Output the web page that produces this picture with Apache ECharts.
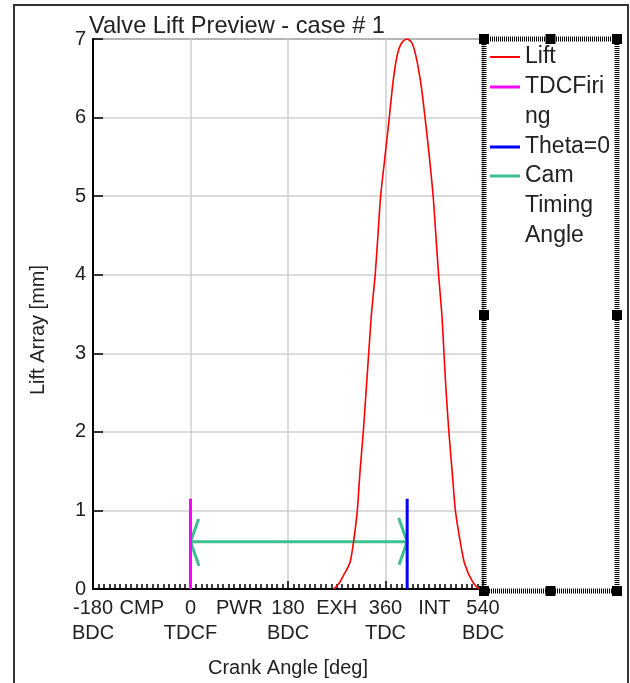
<!DOCTYPE html>
<html>
<head>
<meta charset="utf-8">
<script src="https://cdn.jsdelivr.net/npm/echarts@6.0.0/dist/echarts.min.js"></script>
<style>
  html, body { margin: 0; padding: 0; background: #fff; }
  #main { width: 630px; height: 683px; }
</style>
</head>
<body>
<div id="main"></div>
<script>
// valve lift curve
var liftAngle = [265, 275, 283, 290, 295, 301, 308, 313, 319, 324, 329, 334, 341, 346, 351, 359, 367, 373, 379, 385, 392,
  400, 408, 413, 419, 426, 433, 441, 448, 453, 458, 464, 468, 472, 477, 483, 489, 498, 505, 510, 514, 523, 532];
var liftValue = [0, 0.08, 0.18, 0.27, 0.35, 0.6, 1.0, 1.5, 2.0, 2.5, 3.0, 3.5, 4.0, 4.5, 5.0, 5.5, 6.0, 6.4, 6.7, 6.88, 6.97,
  7.0, 6.96, 6.87, 6.69, 6.4, 6.0, 5.5, 5.0, 4.5, 4.0, 3.5, 3.0, 2.5, 2.0, 1.5, 1.0, 0.6, 0.35, 0.25, 0.18, 0.07, 0];

// marker lines
var tdcLine = [[0, 0], [0, 1.15]];
var thetaLine = [[400, 0], [400, 1.15]];
// double arrow 0 -> 400 at lift 0.6, with open heads
var camArrow = [[15, 0.89], [0, 0.6], [15, 0.31], [0, 0.6], [400, 0.6], [385, 0.89], [400, 0.6], [385, 0.31]];

// x tick labels every 90 deg
var tickTop = ['-180', 'CMP', '0', 'PWR', '180', 'EXH', '360', 'INT', '540'];
var tickBottom = ['BDC', '', 'TDCF', '', 'BDC', '', 'TDC', '', 'BDC'];

// leading blank lines keep the icon level with the first text line
var legendText = { 'TDCFiring': '\nTDCFiri\nng', 'Cam Timing Angle': '\n\nCam\nTiming\nAngle' };

var FONT = 'Arial, "Liberation Sans", sans-serif';
var chart = echarts.init(document.getElementById('main'), null, { renderer: 'canvas' });

var liftData = liftAngle.map(function (a, i) { return [a, liftValue[i]]; });

function mkLegend(name, top, thick) {
  return {
    data: [name],
    left: 490,
    top: top,
    orient: 'vertical',
    padding: 0,
    icon: 'rect',
    itemWidth: 30,
    itemHeight: thick,
    selectedMode: false,
    formatter: function (n) { return legendText[n] || n; },
    textStyle: { fontFamily: FONT, fontSize: 23, lineHeight: 30, color: '#222' }
  };
}

var option = {
  backgroundColor: '#fff',
  animation: false,
  title: {
    text: 'Valve Lift Preview - case # 1',
    left: 89,
    top: 14,
    padding: 0,
    textStyle: { fontFamily: FONT, fontSize: 23.6, fontWeight: 'normal', color: '#222' }
  },
  legend: [
    mkLegend('Lift', 42, 2),
    mkLegend('TDCFiring', 42, 3),
    mkLegend('Theta=0', 132, 3),
    mkLegend('Cam Timing Angle', 101, 3)
  ],
  grid: {
    left: 93, top: 39, right: 147, bottom: 92,
    show: true, borderColor: '#333', borderWidth: 1.5
  },
  xAxis: [{
    type: 'value', min: -180, max: 540, interval: 180,
    axisLine: { show: true, onZero: false, lineStyle: { color: '#000', width: 2 } },
    axisTick: { show: true, inside: true, length: 8, lineStyle: { color: '#000', width: 1.5 } },
    minorTick: { show: true, splitNumber: 18, length: 5, lineStyle: { color: '#000', width: 1.5 } },
    axisLabel: { show: false },
    splitLine: { show: true, lineStyle: { color: '#cfcfcf', width: 1.5 } },
    name: 'Crank Angle [deg]',
    nameLocation: 'middle',
    nameGap: 69,
    nameTextStyle: { fontFamily: FONT, fontSize: 20, color: '#222' }
  }, {
    type: 'value', min: -180, max: 540, interval: 90, position: 'bottom',
    axisLine: { show: false }, axisTick: { show: false }, splitLine: { show: false },
    axisLabel: {
      show: true, margin: 7, showMinLabel: true, showMaxLabel: true,
      fontFamily: FONT, fontSize: 20, lineHeight: 25, color: '#222',
      formatter: function (v) {
        var i = Math.round((v + 180) / 90);
        return tickTop[i] + (tickBottom[i] ? '\n' + tickBottom[i] : '');
      }
    }
  }],
  yAxis: {
    type: 'value', min: 0, max: 7, interval: 1,
    axisLine: { show: true, onZero: false, lineStyle: { color: '#000', width: 2 } },
    axisTick: { show: true, inside: true, length: 10, lineStyle: { color: '#000', width: 1.5 } },
    axisLabel: { fontFamily: FONT, fontSize: 20, color: '#222', margin: 7 },
    splitLine: { show: true, lineStyle: { color: '#cfcfcf', width: 1.5 } },
    name: 'Lift Array [mm]',
    nameLocation: 'middle',
    nameRotate: 90,
    nameGap: 45,
    nameTextStyle: { fontFamily: FONT, fontSize: 20, color: '#222', padding: [0, 32, 0, 0] }
  },
  series: [{
    name: 'Lift', type: 'line', data: liftData, symbol: 'none', smooth: 0.2,
    lineStyle: { color: '#ff0000', width: 1.6 }, itemStyle: { color: '#ff0000' }
  }, {
    name: 'TDCFiring', type: 'line', data: tdcLine, symbol: 'none',
    lineStyle: { color: '#ff00ff', width: 3 }, itemStyle: { color: '#ff00ff' }
  }, {
    name: 'Theta=0', type: 'line', data: thetaLine, symbol: 'none',
    lineStyle: { color: '#0000ff', width: 3 }, itemStyle: { color: '#0000ff' }
  }, {
    name: 'Cam Timing Angle', type: 'line', data: camArrow, symbol: 'none',
    lineStyle: { color: '#3dbf8f', width: 3, join: 'round' }, itemStyle: { color: '#3dbf8f' }, z: 1
  }],
  graphic: [
    // outer frame
    { type: 'rect', shape: { x: 14, y: 5, width: 614, height: 700 }, style: { fill: 'none', stroke: '#333', lineWidth: 2 }, silent: true },
    // legend box with dashed border
    { type: 'rect', shape: { x: 484, y: 39, width: 133, height: 552 }, style: { fill: 'none', stroke: '#000', lineWidth: 5, lineDash: [1, 1] }, z: 100, silent: true },
    { type: 'group', z: 101, children: [
      [484, 39], [550.5, 39], [617, 39], [484, 315], [617, 315], [484, 591], [550.5, 591], [617, 591]
    ].map(function (p) {
      return { type: 'rect', shape: { x: p[0] - 5, y: p[1] - 5, width: 10, height: 10 }, style: { fill: '#000' }, z: 101 };
    }) }
  ]
};

chart.setOption(option);
</script>
</body>
</html>
